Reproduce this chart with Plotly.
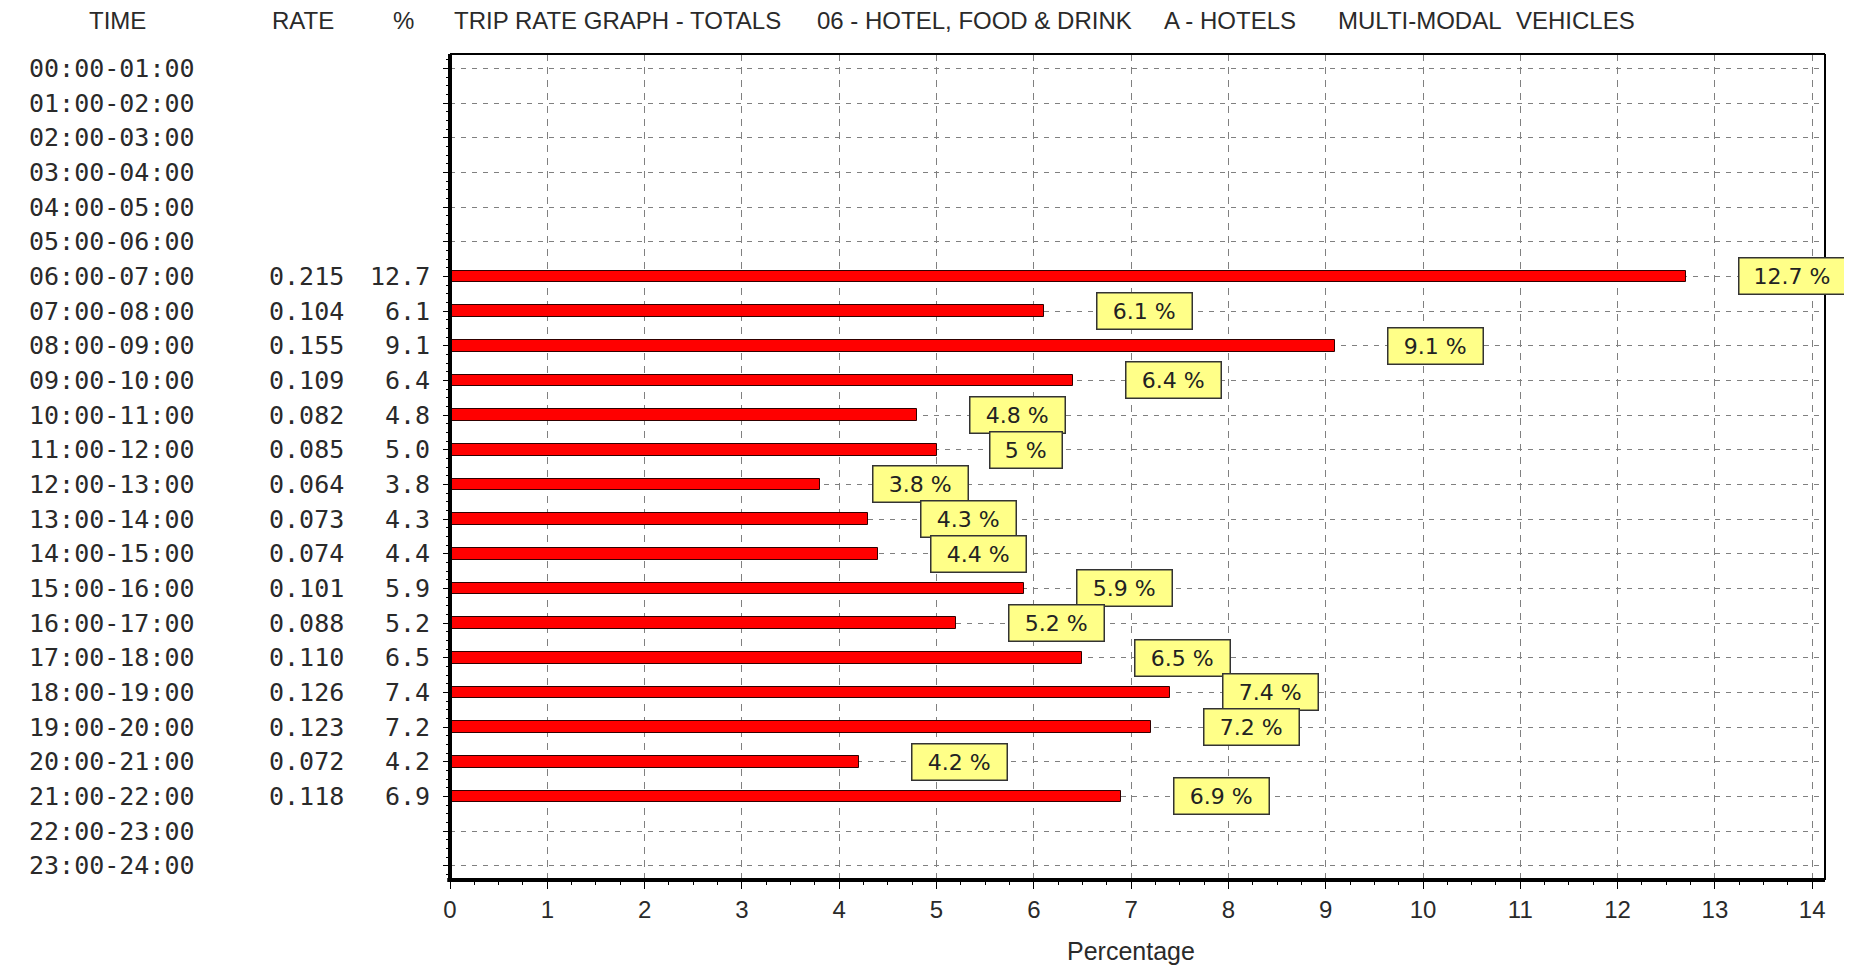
import plotly.graph_objects as go

# ---- data ----
time_labels = ["00:00-01:00", "01:00-02:00", "02:00-03:00", "03:00-04:00",
               "04:00-05:00", "05:00-06:00", "06:00-07:00", "07:00-08:00",
               "08:00-09:00", "09:00-10:00", "10:00-11:00", "11:00-12:00",
               "12:00-13:00", "13:00-14:00", "14:00-15:00", "15:00-16:00",
               "16:00-17:00", "17:00-18:00", "18:00-19:00", "19:00-20:00",
               "20:00-21:00", "21:00-22:00", "22:00-23:00", "23:00-24:00"]
rates = [None, None, None, None, None, None,
         0.215, 0.104, 0.155, 0.109, 0.082, 0.085, 0.064, 0.073, 0.074,
         0.101, 0.088, 0.110, 0.126, 0.123, 0.072, 0.118,
         None, None]
percents = [None, None, None, None, None, None,
            12.7, 6.1, 9.1, 6.4, 4.8, 5.0, 3.8, 4.3, 4.4,
            5.9, 5.2, 6.5, 7.4, 7.2, 4.2, 6.9,
            None, None]
x_ticks = list(range(0, 15))
title_parts = ["TRIP RATE GRAPH - TOTALS", "06 - HOTEL, FOOD & DRINK",
               "A - HOTELS", "MULTI-MODAL", "VEHICLES"]
col_headers = ["TIME", "RATE", "%"]
x_title = "Percentage"

# ---- layout geometry (page pixels) ----
W, H = 1852, 968
BODY = 8                      # default page body margin
L, R, T, B = 450, 1825, 54, 880
PW, PH = R - L, B - T


def px_x(p):
    return (p - L) / PW


def px_y(p):
    return (B - p) / PH


idx = list(range(len(time_labels)))
bar_y = [i for i, p in zip(idx, percents) if p is not None]
bar_x = [p for p in percents if p is not None]

fig = go.Figure()
fig.add_trace(go.Bar(
    x=bar_x, y=bar_y, orientation="h", width=0.34,
    marker=dict(color="#FF0000", line=dict(color="#300000", width=1)),
    hoverinfo="x+y", showlegend=False,
))

mono = "DejaVu Sans Mono"
sans = "Liberation Sans, Arial, sans-serif"
txt = "#2a2a2a"
ann = []

# left table
for i, lab in enumerate(time_labels):
    ann.append(dict(x=px_x(112), y=i, xref="paper", yref="y", text=lab,
                    showarrow=False, xanchor="center", yanchor="middle",
                    font=dict(family=mono, size=25, color=txt)))
    if rates[i] is not None:
        ann.append(dict(x=px_x(346), y=i, xref="paper", yref="y",
                        text=f"{rates[i]:.3f}", showarrow=False,
                        xanchor="right", yanchor="middle",
                        font=dict(family=mono, size=25, color=txt)))
        ann.append(dict(x=px_x(432), y=i, xref="paper", yref="y",
                        text=f"{percents[i]:.1f}", showarrow=False,
                        xanchor="right", yanchor="middle",
                        font=dict(family=mono, size=25, color=txt)))
        lbl = f"{percents[i]:g} %"
        ann.append(dict(x=percents[i], y=i, xref="x", yref="y", text=lbl,
                        showarrow=False, xanchor="left", yanchor="middle",
                        xshift=52, width=11.5 * len(lbl) + 28, height=27,
                        borderpad=4, bgcolor="#FFFF88", bordercolor="#333333",
                        borderwidth=1.5,
                        font=dict(family="DejaVu Sans", size=22, color="#222")))

# header
hdr_y = px_y(21)
for text, cx in zip(col_headers, [117, 303, 403]):
    ann.append(dict(x=px_x(cx), y=hdr_y, xref="paper", yref="paper", text=text,
                    showarrow=False, xanchor="center", yanchor="middle",
                    font=dict(family=sans, size=24, color=txt)))
for text, lx, anc in zip(title_parts, [452, 815, 1162, 1336, 1637],
                         ["left", "left", "left", "left", "right"]):
    ann.append(dict(x=px_x(lx), y=hdr_y, xref="paper", yref="paper", text=text,
                    showarrow=False, xanchor=anc, yanchor="middle",
                    font=dict(family=sans, size=24, color=txt)))

ann.append(dict(x=px_x(1131), y=px_y(951), xref="paper", yref="paper",
                text=x_title, showarrow=False, xanchor="center",
                yanchor="middle", font=dict(family=sans, size=25, color=txt)))

shapes = [
    dict(type="line", xref="paper", yref="paper", x0=0, x1=0, y0=0, y1=1,
         line=dict(color="black", width=4)),
    dict(type="line", xref="paper", yref="paper", x0=-0.002, x1=1, y0=0, y1=0,
         line=dict(color="black", width=4)),
    dict(type="line", xref="paper", yref="paper", x0=0, x1=1, y0=1, y1=1,
         line=dict(color="black", width=2)),
    dict(type="line", xref="paper", yref="paper", x0=1, x1=1, y0=0, y1=1,
         line=dict(color="black", width=2)),
]

fig.update_layout(
    width=W, height=H,
    margin=dict(l=L - BODY, r=W - R + BODY, t=T - BODY, b=H - B + BODY, pad=0),
    paper_bgcolor="white", plot_bgcolor="white",
    annotations=ann, shapes=shapes, bargap=0,
    xaxis=dict(range=[0, (R - L) / 97.3], tickvals=x_ticks,
               ticktext=[str(v) for v in x_ticks],
               showgrid=True, gridcolor="#808080", gridwidth=1,
               griddash="7px,6px", zeroline=False, showline=False,
               ticks="outside", ticklen=8, tickcolor="black", tickwidth=1,
               minor=dict(dtick=0.25, tick0=0, ticks="outside", ticklen=4,
                          tickcolor="black", showgrid=False),
               tickfont=dict(family=sans, size=24, color=txt)),
    yaxis=dict(range=[23.41, -0.418], tickvals=idx, showticklabels=False,
               showgrid=True, gridcolor="#808080", gridwidth=1,
               griddash="5px,6px", zeroline=False, showline=False,
               ticks="outside", ticklen=6, tickcolor="black", tickwidth=1,
               minor=dict(dtick=0.25, tick0=0, ticks="outside", ticklen=3,
                          tickcolor="black", showgrid=False)),
)

fig.write_html("out.html")
